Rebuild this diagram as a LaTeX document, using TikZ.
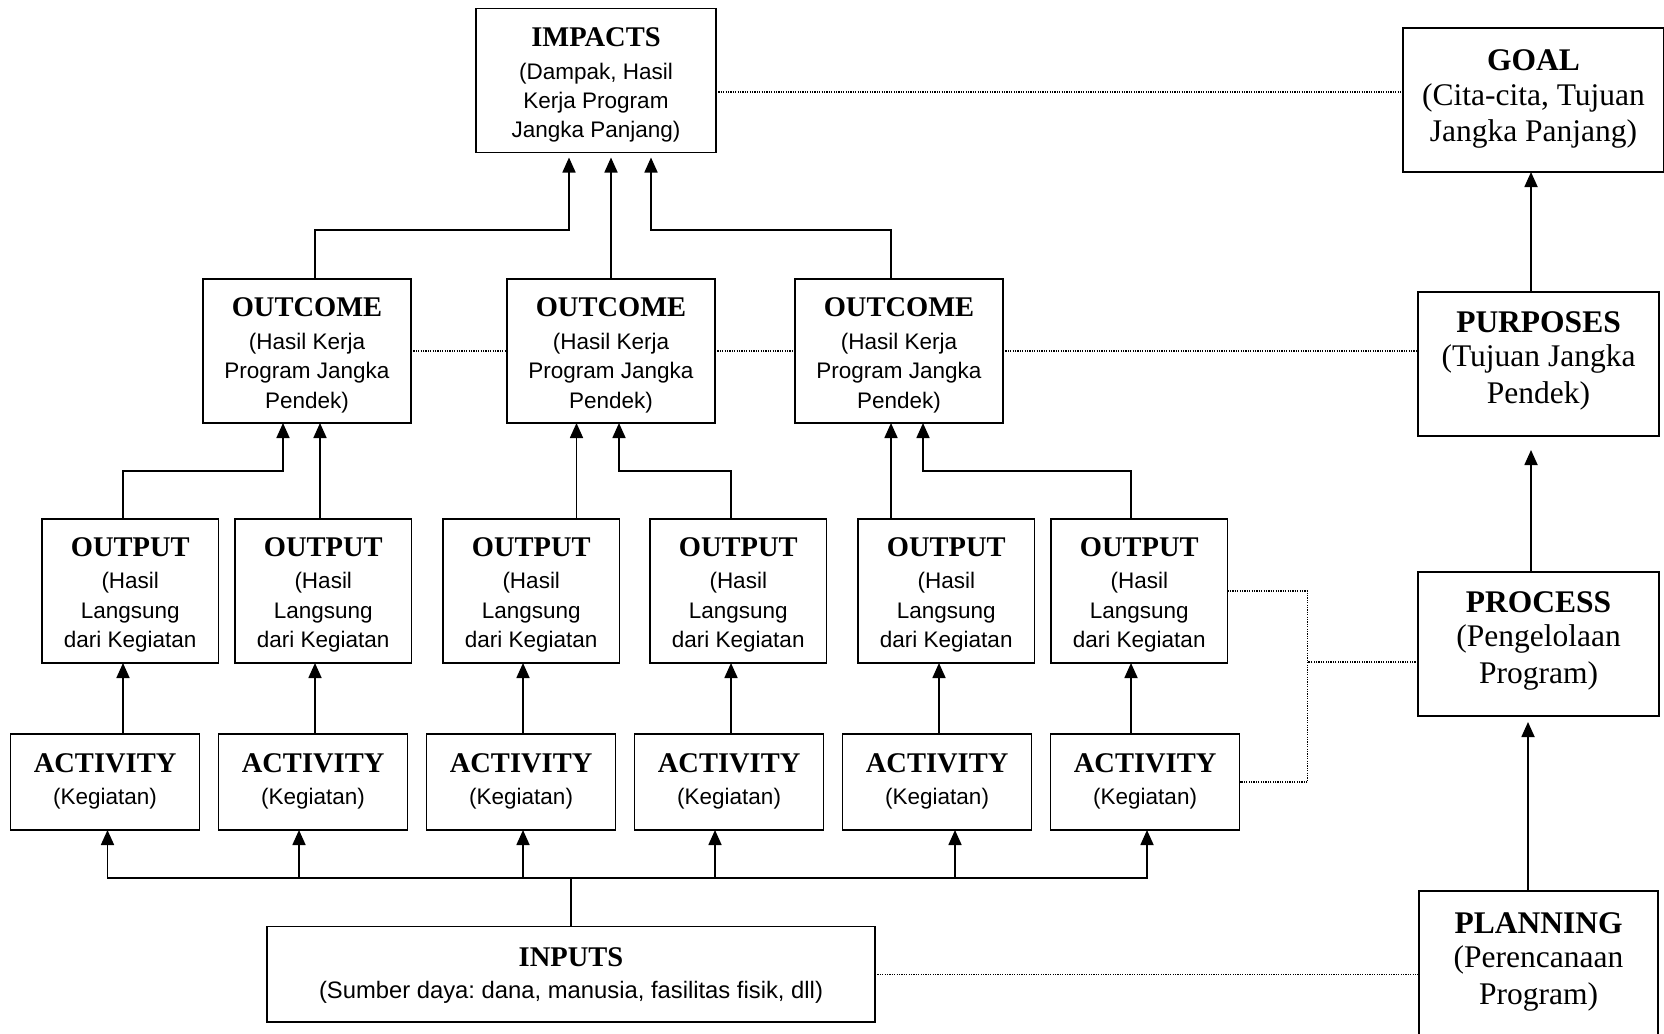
\documentclass[tikz,border=0pt]{standalone}
\usepackage{fontspec}
\setmainfont{Liberation Serif}
\newfontfamily\arialf{Liberation Sans}
\usetikzlibrary{arrows.meta}
\frenchspacing
\newcommand\ltf{\rmfamily\bfseries\fontsize{28.5}{30}\selectfont}
\newcommand\lbf{\arialf\mdseries\fontsize{22.5}{29.5}\selectfont}
\newcommand\rtf{\rmfamily\bfseries\fontsize{31.5}{36}\selectfont}
\newcommand\rbf{\rmfamily\mdseries\fontsize{31.5}{36}\selectfont}
\newcommand\lstk[2]{\vtop{\baselineskip=29.5pt\lineskiplimit=-200pt\lineskip=0pt\halign{\hfil\lbf##\hfil\cr\ltf #1\cr\noalign{\vskip3pt}#2\crcr}}}
\newcommand\rstk[2]{\vtop{\baselineskip=36.5pt\lineskiplimit=-200pt\lineskip=0pt\halign{\hfil\rbf##\hfil\cr\rtf #1\cr\noalign{\vskip-2pt}#2\crcr}}}
\tikzset{
 bx/.style={draw, line width=1.7pt, inner sep=0pt, outer sep=0pt, anchor=north west},
 impbox/.style={bx, minimum width=240pt, text height=38pt, text depth=106pt},
 ocbox/.style={bx, minimum width=208pt, text height=37.7pt, text depth=106.3pt},
 opbox/.style={bx, minimum width=176.5pt, text height=37pt, text depth=107pt},
 acbox/.style={bx, minimum width=189pt, text height=38pt, text depth=58pt},
 rbox/.style={bx, minimum width=241pt, text height=40pt, text depth=104pt},
 conn/.style={line width=1.7pt, -{Triangle[width=13pt,length=15pt]}},
 plain/.style={line width=1.7pt},
 dotline/.style={line width=1.3pt, dash pattern=on 1.2pt off 1.2pt},
}
\begin{document}
\begin{tikzpicture}[x=1pt,y=-1pt]
\clip (0,0) rectangle (1664,1033);
\fill[white] (0,0) rectangle (1664,1033);

% left column
\node[impbox] (imp) at (476,8.5) {\lstk{IMPACTS}{(Dampak, Hasil\cr Kerja Program\cr Jangka Panjang)}};

\node[ocbox] (o1) at (203,279) {\lstk{OUTCOME}{(Hasil Kerja\cr Program Jangka\cr Pendek)}};
\node[ocbox] (o2) at (507,279) {\lstk{OUTCOME}{(Hasil Kerja\cr Program Jangka\cr Pendek)}};
\node[ocbox] (o3) at (795,279) {\lstk{OUTCOME}{(Hasil Kerja\cr Program Jangka\cr Pendek)}};

\node[opbox] (out1) at (42,519) {\lstk{OUTPUT}{(Hasil\cr Langsung\cr dari Kegiatan}};
\node[opbox] (out2) at (235,519) {\lstk{OUTPUT}{(Hasil\cr Langsung\cr dari Kegiatan}};
\node[opbox] (out3) at (443,519) {\lstk{OUTPUT}{(Hasil\cr Langsung\cr dari Kegiatan}};
\node[opbox] (out4) at (650,519) {\lstk{OUTPUT}{(Hasil\cr Langsung\cr dari Kegiatan}};
\node[opbox] (out5) at (858,519) {\lstk{OUTPUT}{(Hasil\cr Langsung\cr dari Kegiatan}};
\node[opbox] (out6) at (1051,519) {\lstk{OUTPUT}{(Hasil\cr Langsung\cr dari Kegiatan}};

\node[acbox] (a1) at (10.6,734) {\lstk{ACTIVITY}{(Kegiatan)}};
\node[acbox] (a2) at (218.6,734) {\lstk{ACTIVITY}{(Kegiatan)}};
\node[acbox] (a3) at (426.6,734) {\lstk{ACTIVITY}{(Kegiatan)}};
\node[acbox] (a4) at (634.6,734) {\lstk{ACTIVITY}{(Kegiatan)}};
\node[acbox] (a5) at (842.6,734) {\lstk{ACTIVITY}{(Kegiatan)}};
\node[acbox] (a6) at (1050.6,734) {\lstk{ACTIVITY}{(Kegiatan)}};

\node[bx, minimum width=608pt, text height=39.5pt, text depth=56pt] (inp) at (267,926.5)
  {\lstk{INPUTS}{{\fontsize{23.8}{29.5}\selectfont(Sumber daya: dana, manusia, fasilitas fisik, dll)}}};

% right column
\node[bx, minimum width=261pt, text height=42.5pt, text depth=101.5pt] (goal) at (1403,28)
  {\rstk{GOAL}{(Cita-cita, Tujuan\cr Jangka Panjang)}};
\node[rbox] (pur) at (1418,292) {\rstk{PURPOSES}{(Tujuan Jangka\cr Pendek)}};
\node[rbox] (pro) at (1418,572) {\rstk{PROCESS}{(Pengelolaan\cr Program)}};
\node[bx, minimum width=239pt, text height=42pt, text depth=130pt] (pla) at (1419,891)
  {\rstk{PLANNING}{(Perencanaan\cr Program)}};

% outcome -> impacts
\draw[conn] ([xshift=8pt]o1.north) -- ++(0,-49) -| ([xshift=-27pt,yshift=-5pt]imp.south);
\draw[conn] (o2.north) -- ([xshift=15pt,yshift=-5pt]imp.south);
\draw[conn] ([xshift=-8pt]o3.north) -- ++(0,-49) -| ([xshift=55pt,yshift=-5pt]imp.south);

% output -> outcome
\draw[conn] ([xshift=-7.25pt]out1.north) -- ++(0,-48) -| ([xshift=-24pt]o1.south);
\draw[conn] ([xshift=-3.25pt]out2.north) -- ([xshift=13pt]o1.south);
\draw[conn] ([xshift=45.25pt]out3.north) -- ([xshift=-34.5pt]o2.south);
\draw[conn] ([xshift=-7.25pt]out4.north) -- ++(0,-48) -| ([xshift=8pt]o2.south);
\draw[conn] ([xshift=-55.25pt]out5.north) -- ([xshift=-8pt]o3.south);
\draw[conn] ([xshift=-8.25pt]out6.north) -- ++(0,-48) -| ([xshift=24pt]o3.south);

% activity -> output
\draw[conn] ([xshift=17.9pt]a1.north) -- ([xshift=-7.25pt]out1.south);
\draw[conn] ([xshift=1.9pt]a2.north) -- ([xshift=-8.25pt]out2.south);
\draw[conn] ([xshift=1.9pt]a3.north) -- ([xshift=-8.25pt]out3.south);
\draw[conn] ([xshift=1.9pt]a4.north) -- ([xshift=-7.25pt]out4.south);
\draw[conn] ([xshift=1.9pt]a5.north) -- ([xshift=-7.25pt]out5.south);
\draw[conn] ([xshift=-14.1pt]a6.north) -- ([xshift=-8.25pt]out6.south);

% inputs -> activities
\draw[plain] (inp.north) -- ++(0,-48.5) coordinate (bus);
\draw[conn] (bus) -| ([xshift=2.4pt]a1.south);
\draw[conn] (bus) -| ([xshift=-14.1pt]a2.south);
\draw[conn] (bus) -| ([xshift=1.9pt]a3.south);
\draw[conn] (bus) -| ([xshift=-14.1pt]a4.south);
\draw[conn] (bus) -| ([xshift=17.9pt]a5.south);
\draw[conn] (bus) -| ([xshift=1.9pt]a6.south);

% right column arrows
\draw[conn] ([xshift=-7.5pt]pur.north) -- ([xshift=-7.5pt]pur.north |- goal.south);
\draw[conn] ([xshift=-7.5pt]pro.north) -- ([xshift=-7.5pt,yshift=-14pt]pur.south);
\draw[conn] ([xshift=-10.5pt]pla.north) -- ([xshift=-10.5pt,yshift=-6pt]pla.north |- pro.south);

% dotted links
\draw[dotline] ([yshift=-11.5pt]imp.east) -- ([yshift=-11.5pt]imp.east -| goal.west);
\draw[dotline] (o1.east) -- (o2.west);
\draw[dotline] (o2.east) -- (o3.west);
\draw[dotline] (o3.east) -- (o3.east -| pur.west);
\draw[dotline] (out6.east) -- ++(80,0) coordinate (dj) |- (a6.east);
\draw[dotline] ([yshift=-18pt]pro.west) -- ([yshift=-18pt]pro.west -| dj);
\draw[dotline] (inp.east) -- (inp.east -| pla.west);
\end{tikzpicture}
\end{document}
